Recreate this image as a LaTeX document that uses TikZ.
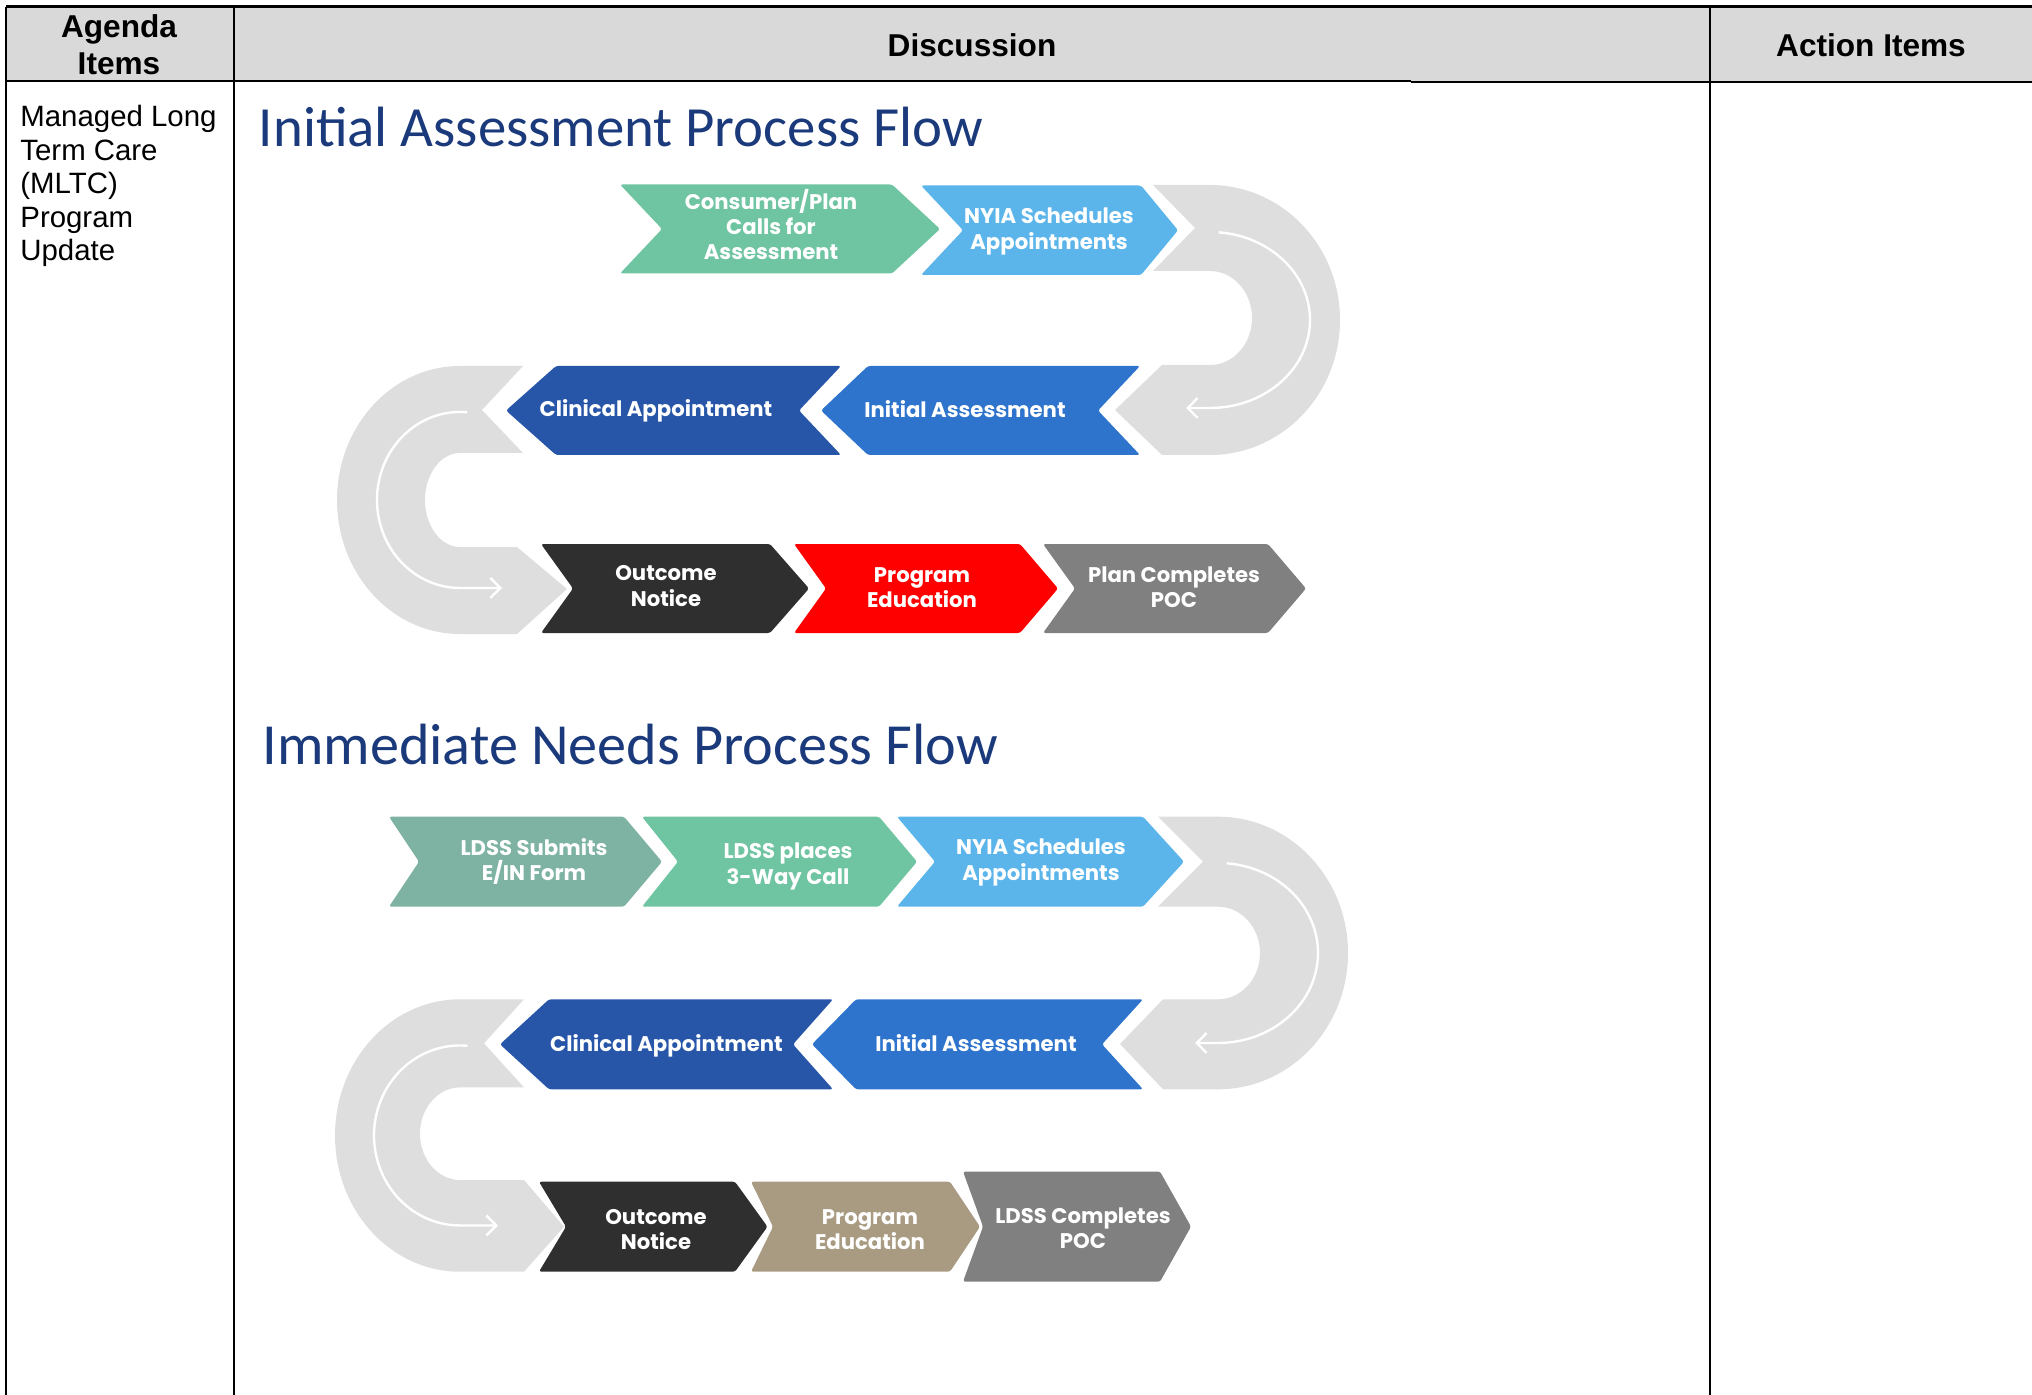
\documentclass[tikz,border=0pt]{standalone}
\usepackage{fontspec}
\setmainfont{Liberation Sans}
\newfontfamily\popfont{Poppins}
\newfontfamily\titlefont{Carlito}
\usetikzlibrary{arrows.meta}
\definecolor{hdrgray}{HTML}{D9D9D9}
\definecolor{ugray}{HTML}{DEDEDE}
\definecolor{cgreen}{HTML}{6FC4A1}
\definecolor{cteal}{HTML}{7EB3A3}
\definecolor{clblue}{HTML}{5BB5EA}
\definecolor{cdblue}{HTML}{2756A8}
\definecolor{cmblue}{HTML}{2F74CC}
\definecolor{cblack}{HTML}{2F2F2F}
\definecolor{cred}{HTML}{FF0000}
\definecolor{cgray}{HTML}{808080}
\definecolor{ctan}{HTML}{A99B82}
\definecolor{ctitle}{HTML}{1B3A7B}
% right-pointing chevron: color, xl, notch, xr, tip, ytop, ybot
\newcommand\rchev[7]{%
  \fill[#1, chevcorner] (#2,#6) -- (#4,#6) -- (#5,{(#6+#7)/2}) -- (#4,#7) -- (#2,#7) -- (#3,{(#6+#7)/2}) -- cycle;}
% left-pointing chevron: color, tip, bodyleft, notch, xr, ytop, ybot
\newcommand\lchev[7]{%
  \fill[#1, chevcorner] (#3,#6) -- (#5,#6) -- (#4,{(#6+#7)/2}) -- (#5,#7) -- (#3,#7) -- (#2,{(#6+#7)/2}) -- cycle;}
\begin{document}
\begin{tikzpicture}[x=0.5pt,y=-0.5pt,
  chevcorner/.style={rounded corners=1.2pt},
  tline/.style={line width=1pt, draw=black},
  hdr/.style={font=\bfseries\fontsize{15.8pt}{18pt}\selectfont, inner sep=0pt, anchor=base},
  bodytxt/.style={font=\fontsize{14.7pt}{17pt}\selectfont, inner sep=0pt, anchor=base west},
  ttl/.style={font=\titlefont\fontsize{28.4pt}{32pt}\selectfont, text=ctitle, inner sep=0pt, anchor=base west},
  chevtext/.style={font=\popfont\bfseries\fontsize{10.6pt}{12.7pt}\selectfont, text=white, align=center, inner sep=0pt},
  ushape/.style={fill=ugray},
  uarrow/.style={draw=white, line width=1.2pt, -{Straight Barb[length=5pt,width=10pt]}}
]
\useasboundingbox (0,0) rectangle (2032,1395);
% ---------- table ----------
\fill[hdrgray] (5.5,6.7) rectangle (2032,81);
\draw[tline, line width=1.2pt] (5.5,6.7) -- (2032,6.7);
\draw[tline] (5.5,6.7) -- (5.5,1395);
\draw[tline] (234,6.7) -- (234,1395);
\draw[tline] (1710,6.7) -- (1710,1395);
\draw[tline] (5.5,81) -- (1411,81);
\draw[tline, line width=1.4pt] (1411,82) -- (2032,82);
\node[hdr] (hagenda) at (119,38) {Agenda};
\node[hdr] (hitems) at (119,75) {Items};
\node[hdr] (hdisc) at (972,56.7) {Discussion};
\node[hdr] (haction) at (1871,56.7) {Action Items};
\node[bodytxt] (l1) at (20,127) {Managed Long};
\node[bodytxt] (l2) at (20,160.5) {Term Care};
\node[bodytxt] (l3) at (20,194) {(MLTC)};
\node[bodytxt] (l4) at (20,227.5) {Program};
\node[bodytxt] (l5) at (20,261) {Update};
% ---------- titles ----------
\node[ttl] (t1) at (258.5,147) {Initial Assessment Process Flow};
\node[ttl, font=\titlefont\fontsize{29.1pt}{32pt}\selectfont] (t2) at (262,764) {Immediate Needs Process Flow};
% ---------- section 1 ----------
% right U-turn
\fill[ushape] (1153,185) -- (1210,185) arc[start angle=-90,end angle=90,x radius=130,y radius=135]
  -- (1162,455) -- (1115,410) -- (1162,365) -- (1210,365)
  arc[start angle=90,end angle=-90,x radius=42,y radius=47] -- (1153,271) -- (1195,228) -- cycle;
\draw[uarrow] (1218.7,232.3) arc[start angle=-85,end angle=90,x radius=100,y radius=88] -- (1186,408);
% left U-turn
\fill[ushape] (523,366) -- (460,366) arc[start angle=270,end angle=90,x radius=123,y radius=134]
  -- (517,634) -- (567,589) -- (517,547) -- (460,547)
  arc[start angle=90,end angle=270,x radius=35,y radius=47] -- (523,453) -- (482,410) -- cycle;
\draw[uarrow] (467.2,412.3) arc[start angle=275,end angle=90,x radius=83,y radius=88] -- (502,588);
% chevrons
\rchev{cgreen}{620}{662}{892}{940}{184.5}{273.5}
\rchev{clblue}{921}{963}{1141}{1178}{185.5}{275}
\lchev{cdblue}{506}{556}{799}{841}{366}{455}
\lchev{cmblue}{821}{868}{1098}{1140}{366}{455}
\rchev{cblack}{541}{573}{770}{809}{544}{633}
\rchev{cred}{794}{826}{1020}{1058}{544}{633}
\rchev{cgray}{1043}{1075}{1268}{1306}{544}{633}
\node[chevtext] (a1) at (771,224.5) {Consumer/Plan\\Calls for\\Assessment};
\node[chevtext] (a2) at (1049,231.5) {NYIA Schedules\\Appointments};
\node[chevtext] (a3) at (656,411) {Clinical Appointment};
\node[chevtext] (a4) at (965,409) {Initial Assessment};
\node[chevtext] (a5) at (666,586) {Outcome\\Notice};
\node[chevtext] (a6) at (922,587.5) {Program\\Education};
\node[chevtext] (a7) at (1174,587) {Plan Completes\\POC};
% ---------- section 2 ----------
\fill[ushape] (1158,816.7) -- (1218,816.7) arc[start angle=-90,end angle=90,x radius=130,y radius=136.3]
  -- (1163,1089.3) -- (1120,1044) -- (1163,999.3) -- (1218,999.3)
  arc[start angle=90,end angle=-90,x radius=42,y radius=46.3] -- (1158,906.7) -- (1203,861.7) -- cycle;
\draw[uarrow] (1226.7,863.3) arc[start angle=-85,end angle=90,x radius=100,y radius=90] -- (1195,1043);
\fill[ushape] (524,999.3) -- (460,999.3) arc[start angle=270,end angle=90,x radius=125,y radius=136.2]
  -- (524,1271.7) -- (564,1226.7) -- (524,1180) -- (460,1180)
  arc[start angle=90,end angle=270,x radius=40,y radius=46.3] -- (524,1087.4) -- (484,1043.3) -- cycle;
\draw[uarrow] (467.5,1045.8) arc[start angle=275,end angle=90,x radius=86,y radius=90] -- (498,1225.5);
\rchev{cteal}{389}{419}{624}{662}{816.7}{906.7}
\rchev{cgreen}{642}{678}{879}{917}{816.7}{906.7}
\rchev{clblue}{897}{935}{1143}{1184}{816.7}{906.7}
\lchev{cdblue}{500}{549}{793}{833}{999.3}{1089.3}
\lchev{cmblue}{812}{856}{1102}{1143}{999.3}{1089.3}
\rchev{cblack}{539}{566}{735}{767.5}{1181.7}{1271.7}
\rchev{ctan}{751}{773}{950}{980}{1181.7}{1271.7}
\rchev{cgray}{963}{983}{1160}{1191}{1171.5}{1281.7}
\node[chevtext] (b1) at (534,861.7) {LDSS Submits\\E/IN Form};
\node[chevtext] (b2) at (788,866.5) {LDSS places\\3-Way Call};
\node[chevtext] (b3) at (1041,862.5) {NYIA Schedules\\Appointments};
\node[chevtext] (b4) at (666.5,1045.8) {Clinical Appointment};
\node[chevtext] (b5) at (976,1043.3) {Initial Assessment};
\node[chevtext] (b6) at (656,1229.5) {Outcome\\Notice};
\node[chevtext] (b7) at (870,1229.5) {Program\\Education};
\node[chevtext] (b8) at (1083,1228) {LDSS Completes\\POC};
\end{tikzpicture}
\end{document}
